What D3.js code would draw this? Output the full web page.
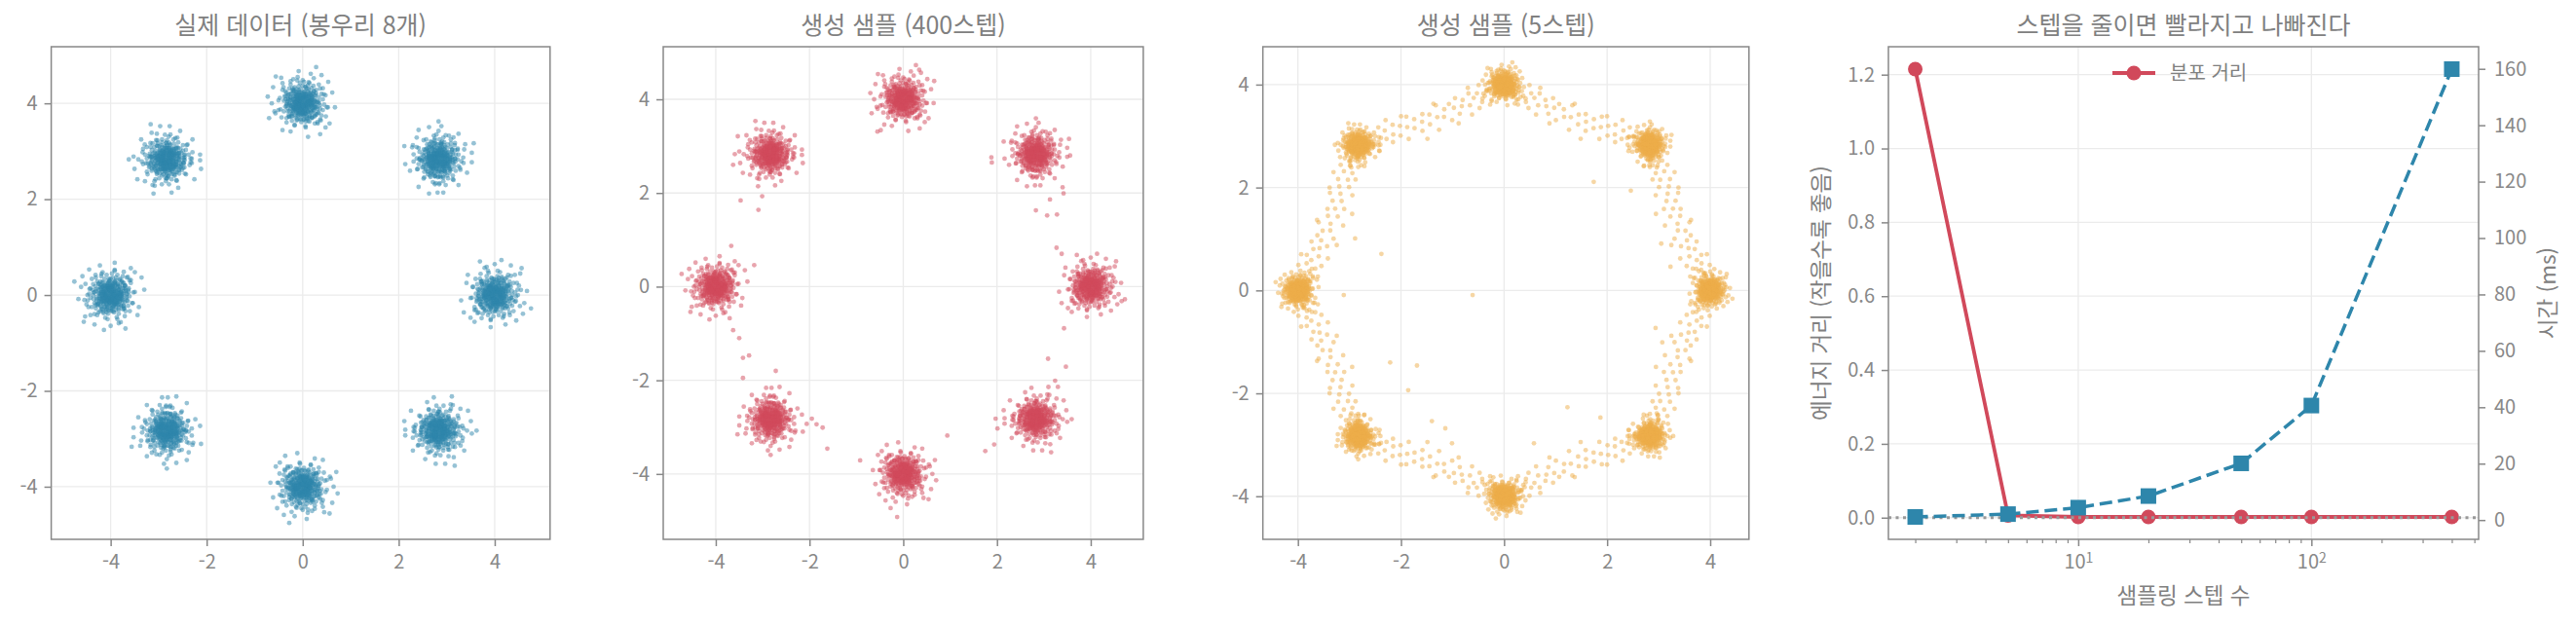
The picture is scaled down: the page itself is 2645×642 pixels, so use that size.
<!DOCTYPE html>
<html lang="ko">
<head>
    <meta charset="UTF-8">
    <title>확산 샘플링 스텝 비교</title>
    <style>
        body { margin: 0; background: #fff; }
        text { font-family: "Noto Sans CJK KR", "Noto Sans", sans-serif; }
    </style>
</head>

<body>
    <svg id="chart" width="2645" height="642"></svg>
</body>

<script src="https://cdn.jsdelivr.net/npm/d3@7/dist/d3.min.js"></script>

<script>

    // 봉우리 중심 8개 (반지름 4 원 위)
    let peakCenters = [[4, 0], [2.83, 2.83], [0, 4], [-2.83, 2.83], [-4, 0], [-2.83, -2.83], [0, -4], [2.83, -2.83]]

    // 봉우리 하나의 점구름 모양 (표준편차 단위 x10), 그림에서 대략 옮김
    let cloudShape = [
        [2,-5],[-7,3],[4,9],[-1,-2],[8,1],[-5,-8],[0,6],[11,-3],[-9,-1],[3,2],
        [-3,7],[6,-9],[-12,4],[1,-11],[9,7],[-6,-4],[5,4],[-2,12],[13,0],[-4,-13],
        [7,-2],[-8,8],[2,14],[-11,-7],[10,-10],[-1,5],[4,-4],[-14,1],[6,11],[0,-7],
        [-5,2],[12,6],[-3,-10],[8,-6],[-10,10],[3,-15],[-7,-12],[15,-5],[1,8],[-13,-4],
        [5,-1],[-2,-6],[9,13],[-9,5],[0,1],[7,5],[-4,9],[11,-13],[-15,-9],[2,-9],
        [-6,14],[14,9],[-1,-16],[6,2],[-8,-2],[3,11],[-12,-13],[10,3],[-3,-3],[16,-1],
        [-16,6],[4,17],[-5,-15],[13,-8],[-10,-5],[8,12],[1,-3],[-2,3],[7,-14],[-11,12],
        [17,4],[-7,0],[5,-7],[-4,5],[0,-12],[12,-2],[-13,8],[2,4],[-9,-14],[9,-4],
        [-1,10],[6,-17],[-17,-2],[11,10],[-6,7],[4,0],[-3,-18],[14,-12],[-8,3],[3,6],
        [-14,-11],[18,7],[-5,18],[1,-6],[10,15],[-12,-1],[7,9],[-2,-9],[15,2],[-9,-9],
        [22,-6],[-21,9],[8,-22],[-6,21],[19,16],[-18,-17],[24,3],[-3,-24],[16,-19],[-20,15],
        [0,23],[-25,-4],[21,-14],[-15,-20],[5,26],[27,-10],[-23,-13],[12,22],[-11,25],[20,20]
    ]

    // 400스텝: 봉우리 사이에 흩어진 점
    let strays400 = [
        [1.88,2.76],[1.89,2.65],[2.83,1.63],[3.07,1.52],[3.28,1.54],[3.42,1.99],[3.13,1.86],[3.27,0.83],
        [3.38,0.70],[3.43,-0.89],[3.09,-1.54],[3.47,-1.71],[3.24,-2.01],[3.30,-2.14],[1.97,-2.82],[2.01,-3.03],
        [1.94,-3.37],[1.75,-3.51],[0.94,-3.18],[-0.92,-3.71],[-1.62,-3.46],[-1.72,-3.01],[-1.85,-2.94],[-2.06,-2.93],
        [-1.95,-2.82],[-2.72,-1.80],[-3.42,-1.95],[-3.42,-1.52],[-3.29,-1.47],[-3.50,-1.10],[-3.63,-0.93],[-3.18,0.46],
        [-3.67,0.87],[-3.09,1.64],[-3.01,1.93],[-3.47,1.84],[-3.63,2.60],[-3.53,3.21],[-0.55,3.31],[-0.48,3.34],
        [0.66,4.39],[0.34,4.63],[-0.13,-4.92],[4.66,-0.31],[3.56,2.80],[3.40,2.12]
    ]

    // 5스텝: 이웃 봉우리를 잇는 점 (위치 t x100, 바깥쪽 거리 x100)
    let bridge5 = [
        [6,8],[8,-5],[9,12],[11,-10],[12,3],[14,-2],[15,14],[17,-8],[18,5],[20,-14],
        [21,1],[23,9],[25,-6],[26,-18],[28,4],[30,-3],[32,10],[33,-11],[35,-1],[37,6],
        [39,-15],[41,2],[43,-7],[45,11],[47,-4],[49,-20],[51,3],[53,-9],[55,7],[57,-2],
        [59,-13],[61,5],[63,-6],[65,12],[67,-1],[69,-16],[71,4],[73,-8],[75,9],[77,-3],
        [79,-12],[81,6],[82,-5],[84,13],[85,-1],[87,-9],[88,4],[90,-6],[91,10],[93,-3],
        [94,7],[7,-1],[13,-15],[22,16],[36,-22],[46,14],[58,-25],[68,15],[78,18],[89,-16],
        [10,2],[16,-4],[86,1],[92,-2]
    ]

    // 5스텝: 원 안쪽에 떨어진 점
    let inner5 = [
        [-2.38,0.71],[-3.11,-0.09],[-0.61,-0.09],[-2.89,1.01],[-2.21,-1.40],[-1.69,-1.46],[-1.86,-1.94],
        [1.74,2.11],[2.46,1.94],[1.23,-2.27],[1.87,-2.47],[-1.40,-2.54],[-1.14,-2.68],[0.58,-2.97],
        [-1.01,-2.97],[2.94,-0.73],[3.07,-1.01],[3.05,0.91],[3.23,0.46]
    ]

    let steps = [2, 5, 10, 20, 50, 100, 400]
    let energyDist = [1.215, 0.006, 0.002, 0.002, 0.002, 0.002, 0.002]
    let timeMs = [1.1, 2.1, 4.4, 8.5, 20.1, 40.6, 159.9]

    let scatterTicks = [-4, -2, 0, 2, 4]
    let distTicks = [0, 0.2, 0.4, 0.6, 0.8, 1.0, 1.2]
    let timeTicks = [0, 20, 40, 60, 80, 100, 120, 140, 160]
    let majorSteps = [10, 100]
    let minorSteps = [2, 3, 4, 5, 6, 7, 8, 9, 20, 30, 40, 50, 60, 70, 80, 90, 200, 300, 400, 500]

    let blue = "#2E86AB", red = "#D1495B", orange = "#EDAE49"
    let gray = "#888", gridColor = "#ebebeb"
    let plotTop = 48, plotBottom = 554

    let svg = d3.select("#chart")

    function cloud(center, k, sigma, shape) {
        let a = k * Math.PI / 4
        let c = Math.cos(a), s = Math.sin(a)
        return shape.map(([u, v]) => [
            center[0] + (u * c - v * s) * sigma / 10,
            center[1] + (u * s + v * c) * sigma / 10
        ])
    }

    // 같은 모양을 뒤집고 줄여서 세 번 겹쳐 봉우리 밀도를 맞춘다
    function peaks(sigma) {
        let pts = []
        peakCenters.forEach((c, k) => {
            pts = pts.concat(cloud(c, k, sigma, cloudShape))
            pts = pts.concat(cloud(c, k, sigma * 0.75, cloudShape.map(([u, v]) => [v, u])))
            pts = pts.concat(cloud(c, k, sigma * 0.5, cloudShape.map(([u, v]) => [-u, v])))
        })
        return pts
    }

    let realPts = peaks(0.28)
    let gen400 = peaks(0.27).concat(strays400)

    let gen5 = peaks(0.16)
    peakCenters.forEach((a, k) => {
        let b = peakCenters[(k + 1) % 8]
        let mx = (a[0] + b[0]) / 2, my = (a[1] + b[1]) / 2
        let len = Math.hypot(mx, my)
        bridge5.forEach(([t, n]) => {
            let tt = k % 2 ? 1 - t / 100 : t / 100
            let nn = n / 100 * 1.5 - 0.03
            gen5.push([a[0] + tt * (b[0] - a[0]) + nn * mx / len,
                       a[1] + tt * (b[1] - a[1]) + nn * my / len])
        })
    })
    gen5 = gen5.concat(inner5)

    let scatterPanels = [
        { title: "실제 데이터 (봉우리 8개)", left: 52.6, right: 564.8, xDom: [-5.238, 5.153], yDom: [-5.098, 5.181], color: blue, pts: realPts },
        { title: "생성 샘플 (400스텝)", left: 681, right: 1173.9, xDom: [-5.121, 5.121], yDom: [-5.396, 5.123], color: red, pts: gen400 },
        { title: "생성 샘플 (5스텝)", left: 1296.7, right: 1795.8, xDom: [-4.68, 4.752], yDom: [-4.837, 4.736], color: orange, pts: gen5 }
    ]

    function styleAxis(g, size) {
        g.select(".domain").remove()
        g.selectAll(".tick line").attr("stroke", gray).attr("stroke-width", 1.5)
        g.selectAll(".tick text").attr("fill", gray).style("font-size", (size || 20) + "px")
    }

    function frame(left, right) {
        svg.append("rect")
            .attr("x", left).attr("y", plotTop)
            .attr("width", right - left).attr("height", plotBottom - plotTop)
            .attr("fill", "none").attr("stroke", gray).attr("stroke-width", 1.5)
    }

    function title(text, left, right) {
        svg.append("text")
            .attr("x", (left + right) / 2).attr("y", 35)
            .attr("text-anchor", "middle").attr("fill", "#808080")
            .style("font-size", "25px")
            .text(text)
    }

    scatterPanels.forEach((p, i) => {
        let x = d3.scaleLinear().domain(p.xDom).range([p.left, p.right])
        let y = d3.scaleLinear().domain(p.yDom).range([plotBottom, plotTop])

        svg.append("clipPath").attr("id", "clip" + i)
            .append("rect").attr("x", p.left).attr("y", plotTop)
            .attr("width", p.right - p.left).attr("height", plotBottom - plotTop)

        let grid = svg.append("g").attr("stroke", gridColor).attr("stroke-width", 1.3)
        grid.selectAll(".gx").data(scatterTicks).enter().append("line")
            .attr("x1", d => x(d)).attr("x2", d => x(d)).attr("y1", plotTop).attr("y2", plotBottom)
        grid.selectAll(".gy").data(scatterTicks).enter().append("line")
            .attr("y1", d => y(d)).attr("y2", d => y(d)).attr("x1", p.left).attr("x2", p.right)

        svg.append("g").attr("clip-path", "url(#clip" + i + ")")
            .selectAll("circle")
            .data(p.pts)
            .enter()
            .append("circle")
            .attr("cx", d => x(d[0]))
            .attr("cy", d => y(d[1]))
            .attr("r", 2.4)
            .attr("fill", p.color)
            .attr("fill-opacity", 0.5)

        let gx = svg.append("g").attr("transform", `translate(0,${plotBottom})`)
            .call(d3.axisBottom(x).tickValues(scatterTicks).tickSize(7).tickPadding(9))
        styleAxis(gx)
        let gy = svg.append("g").attr("transform", `translate(${p.left},0)`)
            .call(d3.axisLeft(y).tickValues(scatterTicks).tickSize(7).tickPadding(7))
        styleAxis(gy)
        gx.selectAll(".tick text").text(d => d < 0 ? "-" + Math.abs(d) : d)
        gy.selectAll(".tick text").text(d => d < 0 ? "-" + Math.abs(d) : d)

        frame(p.left, p.right)
        title(p.title, p.left, p.right)
    })

    // 오른쪽: 스텝 수 vs 분포 거리 / 시간
    let left4 = 1939, right4 = 2545
    let logExt = d3.extent(steps).map(Math.log10)
    let logPad = (logExt[1] - logExt[0]) * 0.05
    let xs = d3.scaleLog()
        .domain([10 ** (logExt[0] - logPad), 10 ** (logExt[1] + logPad)])
        .range([left4, right4])

    let dExt = d3.extent(energyDist), dPad = (dExt[1] - dExt[0]) * 0.05
    let yDist = d3.scaleLinear().domain([dExt[0] - dPad, dExt[1] + dPad]).range([plotBottom, plotTop])
    let tExt = d3.extent(timeMs), tPad = (tExt[1] - tExt[0]) * 0.05
    let yTime = d3.scaleLinear().domain([tExt[0] - tPad, tExt[1] + tPad]).range([plotBottom, plotTop])

    let grid4 = svg.append("g").attr("stroke", gridColor).attr("stroke-width", 1.3)
    grid4.selectAll(".gx").data(majorSteps).enter().append("line")
        .attr("x1", d => xs(d)).attr("x2", d => xs(d)).attr("y1", plotTop).attr("y2", plotBottom)
    grid4.selectAll(".gy").data(distTicks).enter().append("line")
        .attr("y1", d => yDist(d)).attr("y2", d => yDist(d)).attr("x1", left4).attr("x2", right4)

    let distLine = d3.line().x((d, i) => xs(steps[i])).y(d => yDist(d))
    svg.append("path")
        .datum(energyDist)
        .attr("d", distLine)
        .attr("fill", "none").attr("stroke", red).attr("stroke-width", 3.8)
    svg.selectAll(".distDot")
        .data(energyDist)
        .enter()
        .append("circle")
        .attr("cx", (d, i) => xs(steps[i]))
        .attr("cy", d => yDist(d))
        .attr("r", 7.5)
        .attr("fill", red)

    svg.append("line")
        .attr("x1", left4).attr("x2", right4)
        .attr("y1", yDist(0)).attr("y2", yDist(0))
        .attr("stroke", "#999").attr("stroke-width", 3).attr("stroke-dasharray", "3,4.5")

    let timeLine = d3.line().x((d, i) => xs(steps[i])).y(d => yTime(d))
    svg.append("path")
        .datum(timeMs)
        .attr("d", timeLine)
        .attr("fill", "none").attr("stroke", blue).attr("stroke-width", 3.5)
        .attr("stroke-dasharray", "13,6")
    svg.selectAll(".timeDot")
        .data(timeMs)
        .enter()
        .append("rect")
        .attr("x", (d, i) => xs(steps[i]) - 8)
        .attr("y", d => yTime(d) - 8)
        .attr("width", 16).attr("height", 16)
        .attr("fill", blue)

    let gx4 = svg.append("g").attr("transform", `translate(0,${plotBottom})`)
        .call(d3.axisBottom(xs).tickValues(majorSteps).tickSize(7).tickPadding(9))
    styleAxis(gx4)
    gx4.selectAll(".tick text").each(function (d) {
        let t = d3.select(this).text("")
        t.append("tspan").text("10")
        t.append("tspan").attr("dy", "-0.45em").style("font-size", "14px").text(Math.round(Math.log10(d)))
    })
    let gxMinor = svg.append("g").attr("transform", `translate(0,${plotBottom})`)
        .call(d3.axisBottom(xs).tickValues(minorSteps.filter(d => d <= xs.domain()[1])).tickSize(4).tickFormat(""))
    styleAxis(gxMinor)
    gxMinor.selectAll(".tick line").attr("stroke-width", 1.2)

    let gyL = svg.append("g").attr("transform", `translate(${left4},0)`)
        .call(d3.axisLeft(yDist).tickValues(distTicks).tickSize(7).tickPadding(7).tickFormat(d3.format(".1f")))
    styleAxis(gyL)
    let gyR = svg.append("g").attr("transform", `translate(${right4},0)`)
        .call(d3.axisRight(yTime).tickValues(timeTicks).tickSize(7).tickPadding(9))
    styleAxis(gyR)

    frame(left4, right4)
    title("스텝을 줄이면 빨라지고 나빠진다", left4, right4)

    svg.append("text")
        .attr("x", (left4 + right4) / 2).attr("y", 620)
        .attr("text-anchor", "middle").attr("fill", "#808080")
        .style("font-size", "22.5px")
        .text("샘플링 스텝 수")
    svg.append("text")
        .attr("transform", `translate(1878,${(plotTop + plotBottom) / 2}) rotate(-90)`)
        .attr("text-anchor", "middle").attr("fill", "#808080")
        .style("font-size", "22.5px")
        .text("에너지 거리 (작을수록 좋음)")
    svg.append("text")
        .attr("transform", `translate(2624,${(plotTop + plotBottom) / 2}) rotate(-90)`)
        .attr("text-anchor", "middle").attr("fill", "#808080")
        .style("font-size", "22.5px")
        .text("시간 (ms)")

    // 범례
    let legend = svg.append("g").attr("transform", "translate(2169,75)")
    legend.append("line").attr("x1", 0).attr("x2", 44).attr("stroke", red).attr("stroke-width", 3.8)
    legend.append("circle").attr("cx", 22).attr("r", 7.5).attr("fill", red)
    legend.append("text").attr("x", 59).attr("dy", "0.35em")
        .attr("fill", "#808080").style("font-size", "20px")
        .text("분포 거리")

</script>

</html>
